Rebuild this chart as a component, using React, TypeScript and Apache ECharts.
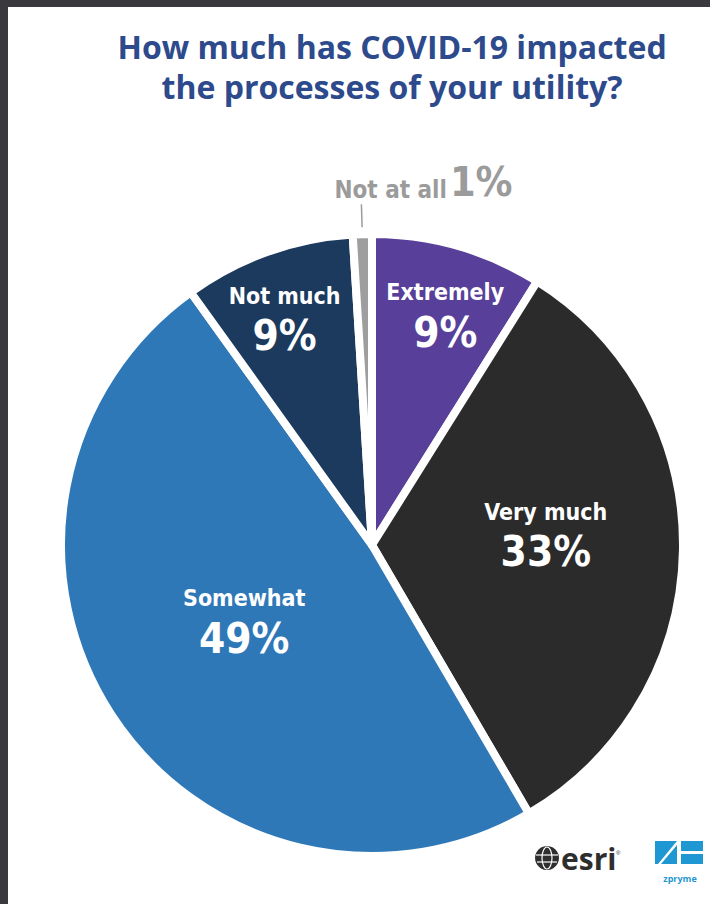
import React, { useEffect, useRef } from "react";
import * as echarts from "echarts";

// ---- data ----
const categories = ["Extremely", "Very much", "Somewhat", "Not much", "Not at all"];
const values = [9, 33, 49, 9, 1];
const titleLines = ["How much has COVID-19 impacted", "the processes of your utility?"];

// ---- styles ----
const sliceColors = ["#58409a", "#2b2b2b", "#2f78b7", "#1c3a5e", "#9e9e9e"];
const CX = 372;
const CY = 545;
const R = 311;
const labelRadius = [0.783, 0.567, 0.486, 0.787, 1];
const labelAngleShift = [1.7, -3.9, 1.9, -1.6, 0];
const COND = "'Liberation Sans Narrow', 'DejaVu Sans Condensed', 'Roboto Condensed', sans-serif";

export default function App() {
  const ref = useRef<HTMLDivElement>(null);
  useEffect(() => {
    if (!ref.current) return;
    const chart = echarts.init(ref.current, undefined, { renderer: "svg" });
    const total = values.reduce((a, b) => a + b, 0);
    const midAngles = values.map((v, i) => {
      const before = values.slice(0, i).reduce((a, b) => a + b, 0);
      return ((before + v / 2) / total) * 360;
    });
    const lastIdx = values.length - 1;

    const data = values.map((v, i) => {
      const outside = i === lastIdx;
      return {
        name: categories[i],
        value: v,
        itemStyle: { color: sliceColors[i] },
        label: outside
          ? {
              show: true,
              position: "outside",
              formatter: `{n|${categories[i]}}{v|${v}%}`,
              rich: {
                n: { fontFamily: COND, fontWeight: "bold", fontSize: 24, color: "#9b9b9b", verticalAlign: "bottom", lineHeight: 44, padding: [0, 3, 0, 0] },
                v: { fontFamily: COND, fontWeight: "bold", fontSize: 41, color: "#9b9b9b", verticalAlign: "bottom", lineHeight: 44 },
              },
            }
          : {
              show: true,
              position: "inside",
              formatter: `{n|${categories[i]}}\n{v|${v}%}`,
              rich: {
                n: { fontFamily: COND, fontWeight: "bold", fontSize: 23, color: "#ffffff", lineHeight: 32, align: "center" },
                v: { fontFamily: COND, fontWeight: "bold", fontSize: 42, color: "#ffffff", lineHeight: 48, align: "center" },
              },
            },
        labelLine: outside
          ? { show: true, length: 30, length2: 0, lineStyle: { color: "#9b9b9b", width: 1.5 } }
          : { show: false },
      };
    });

    chart.setOption({
      animation: false,
      backgroundColor: "#ffffff",
      title: {
        text: titleLines.join("\n"),
        left: 387,
        top: 21,
        textAlign: "center",
        textStyle: {
          fontFamily: "'Open Sans', Lato, sans-serif",
          fontWeight: "bold",
          fontSize: 32,
          lineHeight: 40,
          color: "#2d4a8c",
        },
      },
      graphic: [
        { type: "rect", shape: { x: 0, y: 0, width: 710, height: 7 }, style: { fill: "#3a393d" }, silent: true },
        { type: "rect", shape: { x: 0, y: 0, width: 8, height: 904 }, style: { fill: "#3a393d" }, silent: true },
        // esri logo
        { type: "circle", shape: { cx: 547, cy: 858, r: 12 }, style: { fill: "#2e2e2e" } },
        { type: "ellipse", shape: { cx: 547, cy: 858, rx: 5, ry: 11 }, style: { fill: "none", stroke: "#ffffff", lineWidth: 1.2 } },
        { type: "line", shape: { x1: 536, y1: 855, x2: 558, y2: 855 }, style: { stroke: "#ffffff", lineWidth: 1.2 } },
        { type: "line", shape: { x1: 537, y1: 862, x2: 557, y2: 862 }, style: { stroke: "#ffffff", lineWidth: 1.2 } },
        { type: "text", x: 561, y: 858, style: { text: "esri", fontFamily: "'Open Sans', sans-serif", fontWeight: "bold", fontSize: 30, fill: "#2e2e2e", verticalAlign: "middle" } },
        { type: "text", x: 616, y: 850, style: { text: "®", fontFamily: "sans-serif", fontSize: 6, fill: "#2e2e2e" } },
        // zpryme logo
        { type: "polygon", shape: { points: [[655, 841], [677, 841], [658, 864], [655, 864]] }, style: { fill: "#1f97d2" } },
        { type: "polygon", shape: { points: [[677, 845], [677, 864], [661, 864]] }, style: { fill: "#1f97d2" } },
        { type: "rect", shape: { x: 681, y: 841, width: 22, height: 10 }, style: { fill: "#1f97d2" } },
        { type: "rect", shape: { x: 681, y: 854, width: 22, height: 10 }, style: { fill: "#1f97d2" } },
        { type: "text", x: 680, y: 878, style: { text: "zpryme", fontFamily: "'Open Sans', sans-serif", fontWeight: "bold", fontSize: 9, fill: "#1f97d2", align: "center", verticalAlign: "middle" } },
      ],
      series: [
        {
          type: "pie",
          center: [CX, CY],
          radius: [0, R],
          startAngle: 90,
          clockwise: true,
          avoidLabelOverlap: false,
          itemStyle: { borderColor: "#ffffff", borderWidth: 8 },
          emphasis: { disabled: true },
          data,
          labelLayout: (p: any) => {
            const i = p.dataIndex;
            if (i === lastIdx) {
              const pts = (p.labelLinePoints || []).map((q: number[]) => [q[0], q[1]]);
              if (pts.length >= 2) {
                const s = pts[0];
                const e = pts[pts.length - 1];
                const dx = e[0] - s[0];
                const dy = e[1] - s[1];
                const len = Math.sqrt(dx * dx + dy * dy) || 1;
                pts[0] = [s[0] + (dx / len) * 7, s[1] + (dy / len) * 7];
                return { x: e[0] - 27, y: e[1] - 2, align: "left", verticalAlign: "bottom", labelLinePoints: pts };
              }
              return {};
            }
            const a = ((midAngles[i] + labelAngleShift[i]) * Math.PI) / 180;
            const r = (R - 4) * labelRadius[i];
            return { x: CX + r * Math.sin(a), y: CY - r * Math.cos(a), align: "center", verticalAlign: "middle" };
          },
        },
      ],
    });
    return () => chart.dispose();
  }, []);
  return (
    <div
      ref={ref}
      style={{ position: "absolute", left: 0, top: 0, width: 710, height: 904 }}
    />
  );
}
